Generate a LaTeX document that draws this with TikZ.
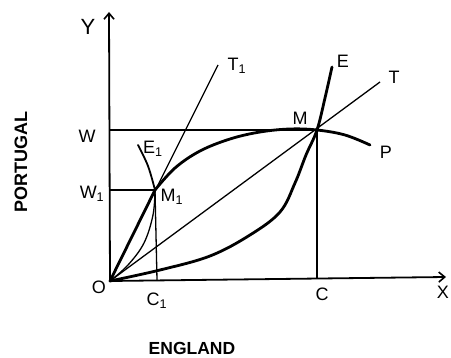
\documentclass[tikz,border=0pt]{standalone}
\usepackage{fontspec}
\setmainfont{Liberation Sans}
\usetikzlibrary{arrows.meta}
\begin{document}
\begin{tikzpicture}[x=1pt,y=-1pt,
  axisline/.style={line width=1.8pt},
  thinline/.style={line width=1.3pt},
  thickcurve/.style={line width=2.8pt, line cap=round, line join=round},
  midcurve/.style={line width=1.8pt, line cap=round},
  lbl/.style={font=\fontsize{18}{18}\selectfont, inner sep=0pt},
  side/.style={font=\fontsize{17.5}{17.5}\selectfont\bfseries, inner sep=0pt},
  tip/.style={-{Straight Barb[length=6pt,width=10pt,line width=1.6pt]}}]
\useasboundingbox (0,0) rectangle (451,358);
% key points
\coordinate (O) at (110,281);
\coordinate (Ytop) at (109,12);
\coordinate (Xend) at (446,277);
\coordinate (M) at (317,130);
\coordinate (M1) at (155,190);
\coordinate (Wp) at (109,130);
\coordinate (W1p) at (109,190);
\coordinate (Cp) at (317,279);
\coordinate (C1p) at (157,280);
\coordinate (T1e) at (218,65);
\coordinate (Te) at (380,82);
% axes
\draw[axisline,tip] (O) -- (Ytop);
\draw[axisline,tip] (O) -- (Xend);
% guide lines
\draw[axisline] (Wp) -- (M);
\draw[axisline] (W1p) -- (M1);
\draw[thinline] (M) -- (Cp);
\draw[thinline] (M1) -- (C1p);
% terms of trade lines
\draw[thinline] (O) -- (T1e);
\draw[thinline] (O) -- (Te);
% Portugal offer curve OP
\draw[thickcurve] (O) -- (M1);
\draw[thickcurve] plot[smooth, tension=0.6] coordinates {(155,190) (175,168) (200,151) (230,139) (260,132) (290,129) (317,130) (345,135) (370,145)};
% England offer curve OE
\draw[thickcurve] plot[smooth, tension=0.6] coordinates {(110,281) (160,270) (210,256) (250,235) (280,212) (295,183) (306,155) (317,130) (325,98) (332,67)};
% E1 curve
\draw[midcurve] plot[smooth, tension=0.6] coordinates {(138,145) (148,166) (155,190)};
\draw[thinline] plot[smooth, tension=0.6] coordinates {(155,190) (153,215) (144,243) (128,265) (110,281)};
% labels
\node[lbl,font=\fontsize{22}{22}\selectfont] (Ylbl) at (88,27) {Y};
\node[lbl] (Xlbl) at (443,292) {X};
\node[lbl] (Olbl) at (99,287) {O};
\node[lbl] (Wlbl) at (87,136) {W};
\node[lbl] (W1lbl) at (92,194) {W\textsubscript{1}};
\node[lbl] (Mlbl) at (300,118) {M};
\node[lbl] (M1lbl) at (172,197) {M\textsubscript{1}};
\node[lbl] (Elbl) at (343,61) {E};
\node[lbl] (E1lbl) at (153,149) {E\textsubscript{1}};
\node[lbl] (Tlbl) at (394,77) {T};
\node[lbl] (T1lbl) at (237,66) {T\textsubscript{1}};
\node[lbl] (Plbl) at (386,152) {P};
\node[lbl] (Clbl) at (322,294) {C};
\node[lbl] (C1lbl) at (157,301) {C\textsubscript{1}};
\node[side] (Eng) at (192,348) {ENGLAND};
\node[side, rotate=90, font=\fontsize{18}{18}\selectfont\bfseries] (Por) at (21,162) {PORTUGAL};
\end{tikzpicture}
\end{document}
